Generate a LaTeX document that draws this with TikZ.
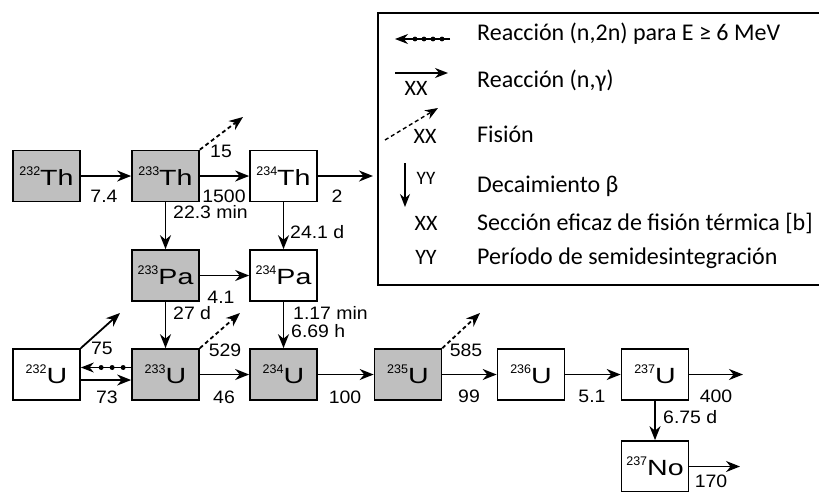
\documentclass[tikz,border=0pt]{standalone}
\usepackage{graphicx}
\usepackage{fontspec}
\setmainfont{Liberation Sans}
\newfontfamily\legfont{Carlito}
\usetikzlibrary{arrows.meta,decorations.markings}
\newcommand\nucl[2]{{\fontsize{12.5}{12.5}\selectfont\raisebox{10pt}{#1}}\scalebox{1.3}[1]{\fontsize{22}{22}\selectfont #2}}
\newcommand\nm[1]{\scalebox{1.08}[1]{#1}}
\begin{document}
\begin{tikzpicture}[x=1pt,y=-1pt,
  iso/.style={draw, line width=1.7pt, minimum width=67pt, minimum height=51pt, inner sep=0pt},
  grayiso/.style={iso, fill=gray!50},
  rx/.style={-{Stealth[length=14pt,width=11pt]}, line width=1.8pt},
  fis/.style={rx, dash pattern=on 4pt off 3pt},
  ntwon/.style={-{Stealth[length=13pt,width=10pt]}, line width=1.4pt,
    postaction={decorate, decoration={markings,
      mark=at position 8pt with {\fill (0,0) circle (2.5pt);},
      mark=at position 19pt with {\fill (0,0) circle (2.5pt);},
      mark=at position 30pt with {\fill (0,0) circle (2.5pt);}}}},
  lbl/.style={font=\fontsize{18}{18}\selectfont, inner sep=0pt},
  lbll/.style={lbl, anchor=west},
  legtext/.style={font=\legfont\fontsize{24}{24}\selectfont, inner sep=0pt, anchor=base west},
  legsym/.style={font=\legfont\fontsize{22}{22}\selectfont, inner sep=0pt},
  legrx/.style={-{Stealth[length=13pt,width=10pt]}, line width=1.4pt},
  legn2n/.style={-{Stealth[length=13pt,width=10pt]}, line width=1.2pt,
    postaction={decorate, decoration={markings,
      mark=at position 8pt with {\fill (0,0) circle (2.4pt);},
      mark=at position 17pt with {\fill (0,0) circle (2.4pt);},
      mark=at position 26pt with {\fill (0,0) circle (2.4pt);},
      mark=at position 35pt with {\fill (0,0) circle (2.4pt);}}}},
]
\useasboundingbox (0,0) rectangle (819,491);
\fill[white] (0,0) rectangle (819,491);
\clip (0,0) rectangle (819,491);

% nuclide boxes
\node[grayiso] (th232) at (46.5,176) {\nucl{232}{Th}};
\node[grayiso] (th233) at (165.5,176) {\nucl{233}{Th}};
\node[iso] (th234) at (283.5,176) {\nucl{234}{Th}};
\node[grayiso] (pa233) at (165.5,275.5) {\nucl{233}{Pa}};
\node[iso] (pa234) at (283.5,275.5) {\nucl{234}{Pa}};
\node[iso] (u232) at (46.5,374.5) {\nucl{232}{U}};
\node[grayiso] (u233) at (165.5,374.5) {\nucl{233}{U}};
\node[grayiso] (u234) at (283.5,374.5) {\nucl{234}{U}};
\node[grayiso] (u235) at (408,374.5) {\nucl{235}{U}};
\node[iso] (u236) at (531,374.5) {\nucl{236}{U}};
\node[iso] (u237) at (655,374.5) {\nucl{237}{U}};
\node[iso] (np237) at (655,466.5) {\nucl{237}{No}};

% free ends
\coordinate (thout) at (373,176);
\coordinate (uout) at (743,374.5);
\coordinate (npout) at (740,466.5);
\coordinate (fth) at (243,117);
\coordinate (fu232) at (120,313);
\coordinate (fu233) at (240,313);
\coordinate (fu235) at (480,313);

% (n,gamma)
\draw[rx] (th232) -- (th233);
\draw[rx] (th233) -- (th234);
\draw[rx] (th234) -- (thout);
\draw[rx] (pa233) -- (pa234);
\draw[rx] ([yshift=-5.5pt]u232.east) -- ([yshift=-5.5pt]u233.west);
\draw[rx] (u233) -- (u234);
\draw[rx] (u234) -- (u235);
\draw[rx] (u235) -- (u236);
\draw[rx] (u236) -- (u237);
\draw[rx] (u237) -- (uout);
\draw[rx] (np237) -- (npout);
% (n,2n)
\draw[ntwon] ([yshift=7pt]u233.west) -- ([yshift=7pt]u232.east);
% decay
\draw[rx] (th233) -- (pa233);
\draw[rx] (th234) -- (pa234);
\draw[rx] (pa233) -- (u233);
\draw[rx] (pa234) -- (u234);
\draw[rx] (u237) -- (np237);
% fission
\draw[fis] (th233.north east) -- (fth);
\draw[rx] (u232.north east) -- (fu232);
\draw[fis] (u233.north east) -- (fu233);
\draw[fis] (u235.north east) -- (fu235);

% labels
\node[lbl] (l1) at (104,196) {\nm{7.4}};
\node[lbl] (l2) at (224,196) {\nm{1500}};
\node[lbl] (l3) at (337,196) {\nm{2}};
\node[lbl] (l4) at (221,151) {\nm{15}};
\node[lbll] (l5) at (173,212) {\nm{22.3 min}};
\node[lbll] (l6) at (290,232) {\nm{24.1 d}};
\node[lbl] (l7) at (221,297) {\nm{4.1}};
\node[lbll] (l8) at (173,313) {\nm{27 d}};
\node[lbll] (l9) at (293,313) {\nm{1.17 min}};
\node[lbll] (l10) at (291,331) {\nm{6.69 h}};
\node[lbl] (l11) at (102,348) {\nm{75}};
\node[lbl] (l12) at (107,397) {\nm{73}};
\node[lbl] (l13) at (224,397) {\nm{46}};
\node[lbl] (l14) at (225,350) {\nm{529}};
\node[lbl] (l15) at (345,397) {\nm{100}};
\node[lbl] (l16) at (466,350) {\nm{585}};
\node[lbl] (l17) at (469,396) {\nm{99}};
\node[lbl] (l18) at (592,396) {\nm{5.1}};
\node[lbl] (l19) at (716,396) {\nm{400}};
\node[lbll] (l20) at (663,417) {\nm{6.75 d}};
\node[lbl] (l21) at (711,481) {\nm{170}};

% legend
\draw[line width=1.4pt] (830,13) -- (378,13) -- (378,285) -- (830,285);
\coordinate (a1s) at (450,39); \coordinate (a1e) at (395,39);
\draw[legn2n] (a1s) -- (a1e);
\coordinate (a2s) at (395,73); \coordinate (a2e) at (448,73);
\draw[legrx] (a2s) -- (a2e);
\node[legsym] (x2) at (416,88) {XX};
\coordinate (a3s) at (385,140); \coordinate (a3e) at (438,108);
\draw[legrx, dash pattern=on 4pt off 3pt] (a3s) -- (a3e);
\node[legsym] (x3) at (425,136) {XX};
\coordinate (a4s) at (405,163); \coordinate (a4e) at (405,207);
\draw[legrx] (a4s) -- (a4e);
\node[legsym, font=\legfont\fontsize{19}{19}\selectfont] (y4) at (426,178) {YY};
\node[legsym, anchor=base] (x5) at (426,230) {XX};
\node[legsym, anchor=base] (y6) at (426,264) {YY};
\node[legtext] (t1) at (477,40) {Reacción (n,2n) para E ≥ 6 MeV};
\node[legtext] (t2) at (477,87) {Reacción (n,γ)};
\node[legtext] (t3) at (477,142) {Fisión};
\node[legtext] (t4) at (477,192) {Decaimiento β};
\node[legtext] (t5) at (477,230) {Sección eficaz de fisión térmica [b]};
\node[legtext] (t6) at (477,264) {Período de semidesintegración};
\end{tikzpicture}
\end{document}
